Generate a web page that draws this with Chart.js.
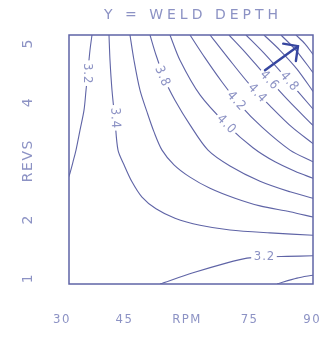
<!DOCTYPE html>
<html>
<head>
<meta charset="utf-8">
<script src="https://cdn.jsdelivr.net/npm/chart.js@4.4.0/dist/chart.umd.min.js"></script>
<style>
html,body{margin:0;padding:0;background:#ffffff;}
canvas{display:block;}
</style>
</head>
<body>
<canvas id="c" width="327" height="339"></canvas>
<script>
// ---- text ----
const titleText = 'Y = WELD DEPTH';
const xTicks = [30, 45, 60, 75, 90];
const xTickLabels = ['30', '45', 'RPM', '75', '90'];
const yTicks = [1, 2, 3, 4, 5];
const yTickLabels = ['1', '2', 'REVS', '4', '5'];

// ---- contour lines, [RPM, REVS] points ----
const c32Upper = [[37.21,5.14],[36.73,4.88],[36.26,4.54],[35.78,4.20],[35.30,3.86],[34.34,3.52],[33.38,3.18],[32.66,2.98],[31.94,2.79],[31.6,2.72]];
const c34 = [[41.29,5.14],[41.53,4.71],[42.01,4.20],[42.73,3.69],[43.45,3.18],[44.89,2.93],[46.80,2.64],[49.20,2.38],[52.56,2.18],[57.11,2.02],[63.11,1.90],[70.30,1.82],[79.89,1.77],[90.2,1.73]];
const c36 = [[46.32,5.14],[47.28,4.71],[48.72,4.20],[50.40,3.83],[52.08,3.49],[54.00,3.18],[56.87,2.93],[60.71,2.72],[65.51,2.53],[71.50,2.36],[77.49,2.23],[84.68,2.13],[90.2,2.04]];
const c38 = [[51.12,5.14],[52.56,4.80],[54.72,4.37],[57.11,4.03],[60.71,3.61],[65.03,3.18],[70.30,2.91],[77.49,2.65],[84.68,2.47],[90.2,2.36]];
const c40 = [[55.91,5.14],[58.31,4.71],[63.11,4.12],[69.58,3.61],[75.81,3.22],[81.09,2.98],[85.88,2.82],[90.2,2.70]];
const c42 = [[60.71,5.14],[64.31,4.75],[68.38,4.34],[72.70,3.95],[77.97,3.57],[84.68,3.18],[90.2,2.98]];
const c44 = [[65.51,5.14],[69.82,4.75],[75.09,4.29],[80.37,3.90],[85.16,3.57],[90.2,3.29]];
const c46 = [[70.06,5.14],[73.90,4.85],[78.69,4.46],[84.21,4.03],[90.2,3.60]];
const c48 = [[74.14,5.14],[78.45,4.83],[83.73,4.41],[90.2,3.88]];
const c50 = [[78.45,5.14],[82.29,4.88],[86.36,4.56],[90.2,4.18]];
const c52 = [[82.53,5.14],[86.12,4.88],[90.2,4.50]];
const c54 = [[86.12,5.14],[88.28,4.99],[90.2,4.81]];
const c32Lower = [[53.52,0.9],[61.43,1.09],[69.58,1.26],[74.38,1.34],[78.69,1.36],[83.97,1.37],[90.2,1.38]];
const c30 = [[81.57,0.9],[86.36,1.0],[90.2,1.05]];

// ---- contour labels ----
const labelText  = ['3.2', '3.4', '3.8', '4.0', '4.2', '4.4', '4.6', '4.8', '3.2'];
const labelRpm   = [36.02, 42.73, 54.00, 69.34, 71.74, 76.77, 79.65, 84.45, 78.45];
const labelRevs  = [4.49, 3.73, 4.44, 3.62, 4.02, 4.15, 4.37, 4.35, 1.36];
const labelAngle = [90, 88, 67, 45, 48, 46, 47, 49, 0];

// ---- direction arrow ----
const arrowFrom = [78.69, 4.54];
const arrowTo   = [86.60, 4.95];

const lineColor = '#5f64a6';
const textColor = '#8c92c4';
const arrowColor = '#3646a0';

const contours = [c32Upper, c34, c36, c38, c40, c42, c44, c46, c48, c50, c52, c54, c32Lower, c30];

const bgPlugin = {
  id: 'bg',
  beforeDraw(chart) {
    const ctx = chart.ctx;
    ctx.save();
    ctx.fillStyle = '#ffffff';
    ctx.fillRect(0, 0, chart.width, chart.height);
    ctx.restore();
    ctx.letterSpacing = '1.5px';
  }
};

const decoPlugin = {
  id: 'deco',
  afterDraw(chart) {
    const {ctx, chartArea: a, scales: {x, y}} = chart;
    ctx.save();
    ctx.letterSpacing = '1px';
    ctx.font = '13px "DejaVu Sans Condensed", "DejaVu Sans", sans-serif';
    ctx.textAlign = 'center';
    ctx.textBaseline = 'middle';
    labelText.forEach((t, i) => {
      const px = x.getPixelForValue(labelRpm[i]);
      const py = y.getPixelForValue(labelRevs[i]);
      ctx.save();
      ctx.translate(px, py);
      ctx.rotate(labelAngle[i] * Math.PI / 180);
      const w = ctx.measureText(t).width;
      ctx.fillStyle = '#ffffff';
      ctx.fillRect(-w / 2 - 2, -6, w + 4, 12);
      ctx.fillStyle = textColor;
      ctx.fillText(t, 0.5, 0);
      ctx.restore();
    });
    // arrow
    const x0 = x.getPixelForValue(arrowFrom[0]), y0 = y.getPixelForValue(arrowFrom[1]);
    const x1 = x.getPixelForValue(arrowTo[0]), y1 = y.getPixelForValue(arrowTo[1]);
    const ang = Math.atan2(y1 - y0, x1 - x0);
    const hl = 15, ha = 0.8;
    ctx.strokeStyle = arrowColor;
    ctx.lineWidth = 2.4;
    ctx.lineCap = 'round';
    ctx.beginPath();
    ctx.moveTo(x0, y0); ctx.lineTo(x1, y1);
    ctx.moveTo(x1 - hl * Math.cos(ang - ha), y1 - hl * Math.sin(ang - ha));
    ctx.lineTo(x1, y1);
    ctx.lineTo(x1 - hl * Math.cos(ang + ha), y1 - hl * Math.sin(ang + ha));
    ctx.stroke();
    // frame
    ctx.strokeStyle = lineColor;
    ctx.lineWidth = 1.5;
    ctx.strokeRect(a.left, a.top, a.right - a.left, a.bottom - a.top);
    // title
    ctx.letterSpacing = '4px';
    ctx.font = '14px "DejaVu Sans", sans-serif';
    ctx.fillStyle = textColor;
    ctx.textAlign = 'center';
    ctx.fillText(titleText, 193, 15);
    ctx.restore();
  }
};

new Chart(document.getElementById('c'), {
  type: 'scatter',
  data: {
    datasets: contours.map(d => ({
      data: d.map(p => ({x: p[0], y: p[1]})),
      showLine: true,
      pointRadius: 0,
      borderColor: lineColor,
      borderWidth: 1.1,
      tension: 0.3,
      fill: false
    }))
  },
  options: {
    responsive: false,
    animation: false,
    devicePixelRatio: 1,
    layout: {padding: {top: 35, right: 14, left: 0, bottom: 0}},
    plugins: {legend: {display: false}, tooltip: {enabled: false}, title: {display: false}},
    scales: {
      x: {
        type: 'linear', min: 31.7, max: 90.2,
        grid: {display: false, drawTicks: true, tickLength: 26},
        border: {display: false},
        afterBuildTicks(s) { s.ticks = xTicks.map(v => ({value: v})); },
        afterFit(s) { s.height = 55; },
        ticks: {
          autoSkip: false, minRotation: 0, maxRotation: 0, padding: 2,
          color: textColor,
          font: {family: '"DejaVu Sans Condensed", "DejaVu Sans", sans-serif', size: 13},
          callback: (v, i) => xTickLabels[i]
        }
      },
      y: {
        type: 'linear', min: 0.9, max: 5.14,
        grid: {display: false, drawTicks: true, tickLength: 20},
        border: {display: false},
        afterBuildTicks(s) { s.ticks = yTicks.map(v => ({value: v})); },
        afterFit(s) { s.width = 69; },
        ticks: {
          autoSkip: false, minRotation: 90, maxRotation: 90, crossAlign: 'center', padding: 2,
          color: textColor,
          font: {family: '"DejaVu Sans", sans-serif', size: 14},
          callback: (v, i) => yTickLabels[i]
        }
      }
    }
  },
  plugins: [bgPlugin, decoPlugin]
});
</script>
</body>
</html>
